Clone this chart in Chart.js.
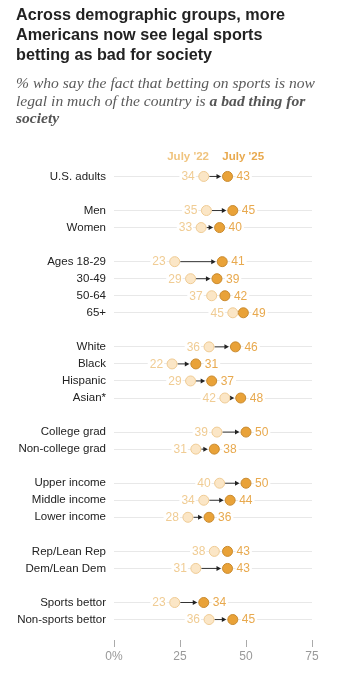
<!DOCTYPE html>
<html>
<head>
<meta charset="utf-8">
<script src="https://cdn.jsdelivr.net/npm/chart.js@4"></script>
<style>
  html, body { margin:0; padding:0; background:#fff; width:352px; height:676px; overflow:hidden; }
  #title { position:absolute; left:16px; top:4px; font-family:"Liberation Sans", Arial, sans-serif; font-weight:bold; font-size:16.2px; line-height:20px; color:#222; z-index:2; white-space:nowrap; }
  #sub { position:absolute; left:16px; top:74px; font-family:"Liberation Serif", serif; font-style:italic; font-size:15.6px; line-height:17.6px; color:#5a5a5a; z-index:2; white-space:nowrap; }
  #sub b { font-weight:bold; color:#555; }
  canvas { position:absolute; left:0; top:0; }
</style>
</head>
<body>
<div id="title">Across demographic groups, more<br>Americans now see legal sports<br>betting as bad for society</div>
<div id="sub">% who say the fact that betting on sports is now<br>legal in much of the country is <b>a bad thing for<br>society</b></div>
<canvas id="c" width="352" height="676"></canvas>
<script>
const groups = ['U.S. adults','', 'Men','Women','', 'Ages 18-29','30-49','50-64','65+','',
  'White','Black','Hispanic','Asian*','', 'College grad','Non-college grad','',
  'Upper income','Middle income','Lower income','', 'Rep/Lean Rep','Dem/Lean Dem','',
  'Sports bettor','Non-sports bettor'];
const july22 = [34,null,35,33,null,23,29,37,45,null,36,22,29,42,null,39,31,null,40,34,28,null,38,31,null,23,36];
const july25 = [43,null,45,40,null,41,39,42,49,null,46,31,37,48,null,50,38,null,50,44,36,null,43,43,null,34,45];
const seriesNames = ["July '22", "July '25"];
const xTicks = [0, 25, 50, 75];

const LIGHT_FILL = '#fbe6c6', LIGHT_BORDER = '#efcb94', LIGHT_TEXT = '#f0cc94';
const DARK_FILL = '#e9a238', DARK_BORDER = '#c98a2e', DARK_TEXT = '#e8a94e';

function pts(arr){ return arr.map((v,i)=> v==null ? null : {x:v, y:i}).filter(Boolean); }

const arrowPlugin = {
  id:'arrows',
  beforeDatasetsDraw(chart){
    const ctx = chart.ctx, xs = chart.scales.x, ys = chart.scales.y;
    ctx.save();
    groups.forEach((g,i)=>{
      if (july22[i]==null) return;
      const x1 = xs.getPixelForValue(july22[i]) + 5.5;
      const x2 = xs.getPixelForValue(july25[i]) - 6.5;
      const y = ys.getPixelForValue(i);
      if (x2 - x1 < 3) return;
      ctx.strokeStyle = '#333'; ctx.fillStyle = '#222'; ctx.lineWidth = 1;
      ctx.beginPath(); ctx.moveTo(x1, y); ctx.lineTo(x2 - 3, y); ctx.stroke();
      ctx.beginPath(); ctx.moveTo(x2, y); ctx.lineTo(x2 - 4.5, y - 2.5); ctx.lineTo(x2 - 4.5, y + 2.5); ctx.closePath(); ctx.fill();
    });
    ctx.restore();
  },
  afterDatasetsDraw(chart){
    const ctx = chart.ctx, xs = chart.scales.x, ys = chart.scales.y;
    ctx.save();
    ctx.font = '12px "Liberation Sans", Arial, sans-serif';
    ctx.textBaseline = 'middle';
    let firstL = null, firstR = null;
    groups.forEach((g,i)=>{
      if (july22[i]==null) return;
      const y = ys.getPixelForValue(i);
      const t1 = String(july22[i]), t2 = String(july25[i]);
      const w1 = ctx.measureText(t1).width, w2 = ctx.measureText(t2).width;
      const xl = xs.getPixelForValue(july22[i]) - 9;
      const xr = xs.getPixelForValue(july25[i]) + 9;
      ctx.fillStyle = '#fff';
      ctx.fillRect(xl - w1 - 2, y - 5, w1 + 3, 10);
      ctx.fillRect(xr - 1, y - 5, w2 + 3, 10);
      ctx.fillStyle = LIGHT_TEXT; ctx.textAlign = 'right'; ctx.fillText(t1, xl, y + 0.5);
      ctx.fillStyle = DARK_TEXT; ctx.textAlign = 'left'; ctx.fillText(t2, xr, y + 0.5);
      if (firstL == null) { firstL = xl - w1/2; firstR = xr + w2/2; }
    });
    const y0 = ys.getPixelForValue(0) - 19.5;
    ctx.font = 'bold 11.5px "Liberation Sans", Arial, sans-serif';
    ctx.textAlign = 'center';
    ctx.fillStyle = '#f0c47f'; ctx.fillText(seriesNames[0], firstL, y0);
    ctx.fillStyle = DARK_TEXT; ctx.fillText(seriesNames[1], firstR, y0);
    ctx.restore();
  }
};

new Chart(document.getElementById('c'), {
  type:'scatter',
  data:{
    datasets:[
      { label:seriesNames[0], data:pts(july22), backgroundColor:LIGHT_FILL, borderColor:LIGHT_BORDER, borderWidth:1, pointRadius:5, pointHoverRadius:5 },
      { label:seriesNames[1], data:pts(july25), backgroundColor:DARK_FILL, borderColor:DARK_BORDER, borderWidth:1, pointRadius:5, pointHoverRadius:5 }
    ]
  },
  options:{
    responsive:false, animation:false,
    layout:{ padding:{ top:156, right:40, bottom:6, left:0 } },
    plugins:{ legend:{display:false}, tooltip:{enabled:false} },
    scales:{
      x:{
        type:'linear', min:0, max:75,
        afterBuildTicks(s){ s.ticks = xTicks.map(v=>({value:v})); },
        afterFit(s){ s.height = 30; },
        border:{ display:false },
        grid:{ drawOnChartArea:false, drawTicks:true, tickLength:7, color:'#aaa' },
        ticks:{ color:'#999', padding:2, font:{ size:12, family:'"Liberation Sans", Arial, sans-serif' },
          callback:(v)=> v===0 ? '0%' : String(v) }
      },
      y:{
        type:'linear', reverse:true, min:-1.2, max:27.2,
        afterBuildTicks(s){ s.ticks = groups.map((g,i)=> g ? {value:i} : null).filter(Boolean); },
        afterFit(s){ s.width = 114; },
        border:{ display:false },
        grid:{ color:'#e8e8e8', drawTicks:false, lineWidth:1 },
        ticks:{ color:'#222', padding:8, autoSkip:false, font:{ size:11.5, family:'"Liberation Sans", Arial, sans-serif' },
          callback:(v)=> groups[v] }
      }
    }
  },
  plugins:[arrowPlugin]
});
</script>
</body>
</html>
